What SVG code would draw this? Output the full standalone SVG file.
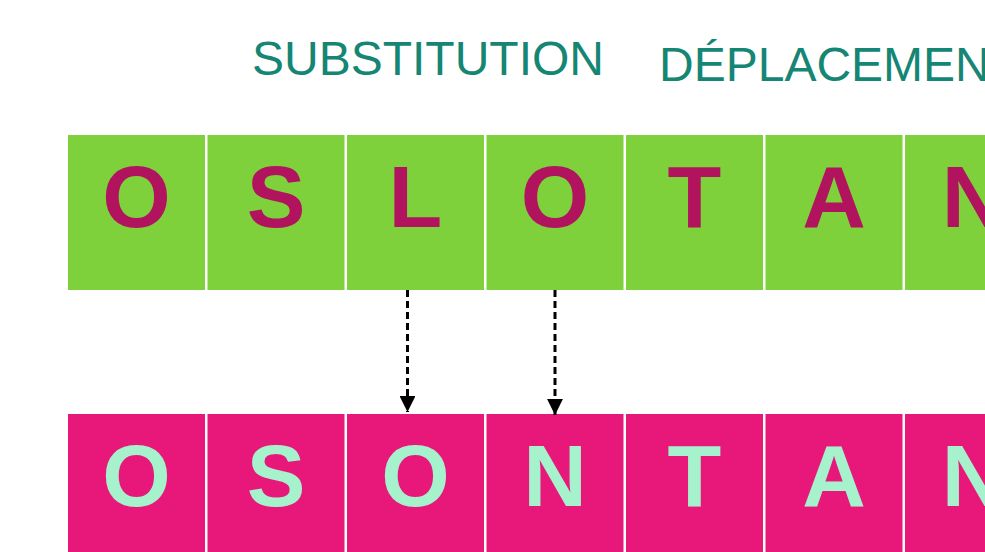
<svg xmlns="http://www.w3.org/2000/svg" width="985" height="552" viewBox="0 0 985 552">
<style>
.title{font-family:"Liberation Sans",Arial,sans-serif;font-size:48px;fill:#158674}
.top rect{fill:#7FD13B}
.bot rect{fill:#E8177A}
.lt{font-family:"Liberation Sans",Arial,sans-serif;font-size:88px;font-weight:bold;text-anchor:middle}
.top text{fill:#B2135E}
.bot text{fill:#A6F2CD}
.arr{stroke:#000;stroke-width:3;stroke-dasharray:7 4;fill:none}
</style>
<defs>
<marker id="ah" viewBox="0 0 10 10" refX="10" refY="5" markerWidth="5.3" markerHeight="5.3" markerUnits="strokeWidth" orient="auto">
<path d="M0,0 L10,5 L0,10 z" fill="#000"/>
</marker>
</defs>
<rect width="985" height="552" fill="#fff"/>
<g id="titles">
<text class="title" x="252" y="75">SUBSTITUTION</text>
<text class="title" x="659" y="81" font-size="50">DÉPLACEMEN</text>
</g>
<g id="top-row" class="top">
<g id="t1"><rect x="68" y="135" width="137" height="155"/><text class="lt" x="136.5" y="227">O</text></g>
<g id="t2"><rect x="207.5" y="135" width="137" height="155"/><text class="lt" x="276" y="227">S</text></g>
<g id="t3"><rect x="347" y="135" width="137" height="155"/><text class="lt" x="415.5" y="227">L</text></g>
<g id="t4"><rect x="486.5" y="135" width="137" height="155"/><text class="lt" x="555" y="227">O</text></g>
<g id="t5"><rect x="626" y="135" width="137" height="155"/><text class="lt" x="694.5" y="227">T</text></g>
<g id="t6"><rect x="765.5" y="135" width="137" height="155"/><text class="lt" x="834" y="227">A</text></g>
<g id="t7"><rect x="905" y="135" width="137" height="155"/><text class="lt" x="973.5" y="227">N</text></g>
</g>
<g id="bottom-row" class="bot">
<g id="b1"><rect x="68" y="414" width="137" height="140"/><text class="lt" x="136.5" y="506">O</text></g>
<g id="b2"><rect x="207.5" y="414" width="137" height="140"/><text class="lt" x="276" y="506">S</text></g>
<g id="b3"><rect x="347" y="414" width="137" height="140"/><text class="lt" x="415.5" y="506">O</text></g>
<g id="b4"><rect x="486.5" y="414" width="137" height="140"/><text class="lt" x="555" y="506">N</text></g>
<g id="b5"><rect x="626" y="414" width="137" height="140"/><text class="lt" x="694.5" y="506">T</text></g>
<g id="b6"><rect x="765.5" y="414" width="137" height="140"/><text class="lt" x="834" y="506">A</text></g>
<g id="b7"><rect x="905" y="414" width="137" height="140"/><text class="lt" x="973.5" y="506">N</text></g>
</g>
<g id="connectors">
<path class="arr" d="M407.5,290 V412" marker-end="url(#ah)"/>
<path class="arr" d="M555,290 V415" marker-end="url(#ah)"/>
</g>
</svg>
